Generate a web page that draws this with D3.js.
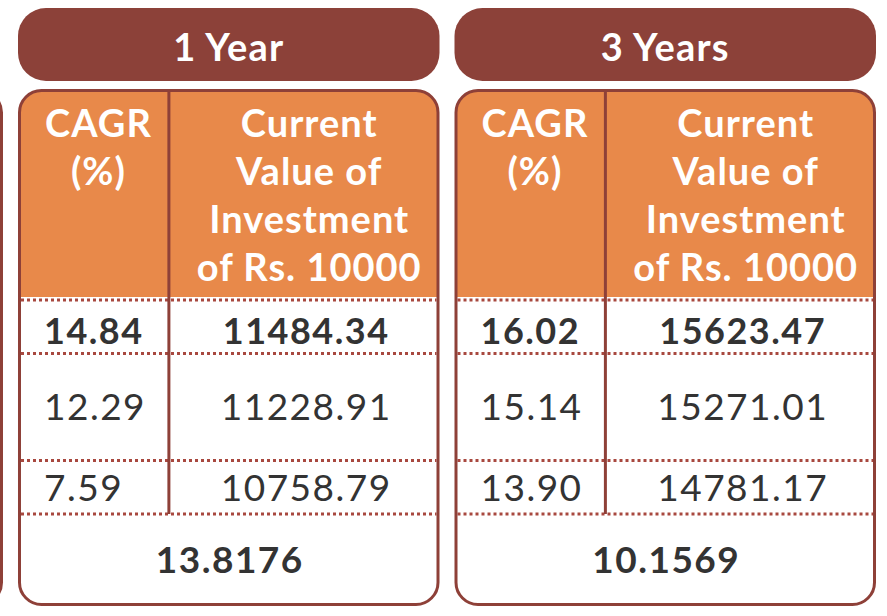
<!DOCTYPE html>
<html>
<head>
<meta charset="utf-8">
<script src="https://cdn.jsdelivr.net/npm/d3@7"></script>
<style>
html, body { margin: 0; padding: 0; background: #ffffff; }
svg { display: block; font-family: Lato, "Open Sans", sans-serif; }
</style>
</head>
<body>
<svg id="chart" width="887" height="616"></svg>
<script>
// ---- data ----
const periods = ["1 Year", "3 Years"];
const cagrHeader = ["CAGR", "(%)"];
const valueHeader = ["Current", "Value of", "Investment", "of Rs. 10000"];
const cagr1Y = [14.84, 12.29, 7.59];
const value1Y = [11484.34, 11228.91, 10758.79];
const cagr3Y = [16.02, 15.14, 13.90];
const value3Y = [15623.47, 15271.01, 14781.17];
const footerValues = [13.8176, 10.1569];
const rowWeights = [1, 2, 1];
const boldRows = [true, false, false];

const tables = periods.map((p, i) => ({
  period: p,
  cagr: i === 0 ? cagr1Y : cagr3Y,
  value: i === 0 ? value1Y : value3Y,
  footer: footerValues[i]
}));

// ---- layout ----
const W = 887, H = 616;
const C = {
  pill: "#8C4139",
  orange: "#E8894A",
  border: "#8E4038",
  dots: "#A8483F",
  text: "#333333"
};
const pillTop = 8, pillH = 73;
const tableTop = 89, headerBottom = 297, bodyTop = 300, bodyBottom = 514, tableBottom = 606;
const stroke = 3;
const fsBold = 36, fsReg = 37, fsHead = 38, fsPill = 38, fsFoot = 37;

const svg = d3.select("#chart").attr("viewBox", `0 0 ${W} ${H}`);
svg.append("rect").attr("width", W).attr("height", H).attr("fill", "#fff");

const x = d3.scaleBand().domain(periods).range([18, 876]).paddingInner(15 / 436.5);
const bw = x.bandwidth();
const step = x.step();
const colSplit = d3.scaleLinear().domain([0, 1]).range([0, bw]);
const splitX = colSplit(0.358);

// row scale from cumulative weights
const cum = [0];
rowWeights.forEach(w => cum.push(cum[cum.length - 1] + w));
const y = d3.scaleLinear().domain([0, d3.sum(rowWeights)]).range([bodyTop, bodyBottom]);
const rowTextShift = [4, 0, 0];

const fmt2 = d3.format(".2f");
const fmt4 = d3.format(".4f");

// partial previous table (only its right border peeks in)
svg.append("rect")
  .attr("x", x(periods[0]) - step + stroke / 2)
  .attr("y", tableTop + stroke / 2)
  .attr("width", bw - stroke)
  .attr("height", tableBottom - tableTop - stroke)
  .attr("rx", 22)
  .attr("fill", "none")
  .attr("stroke", C.border)
  .attr("stroke-width", stroke);

const defs = svg.append("defs");

const g = svg.selectAll("g.table")
  .data(tables)
  .join("g")
  .attr("class", "table")
  .attr("transform", d => `translate(${x(d.period)},0)`);

// pill
g.append("rect")
  .attr("x", 0).attr("y", pillTop)
  .attr("width", bw).attr("height", pillH)
  .attr("rx", 28)
  .attr("fill", C.pill);

g.append("text")
  .attr("x", bw / 2).attr("y", pillTop + 53)
  .attr("text-anchor", "middle")
  .attr("fill", "#fff")
  .attr("font-size", fsPill)
  .attr("font-weight", 700)
  .attr("letter-spacing", 1.2)
  .text(d => d.period);

// clip for table body
tables.forEach((d, i) => {
  defs.append("clipPath").attr("id", "clip" + i)
    .append("rect")
    .attr("x", stroke / 2).attr("y", tableTop + stroke / 2)
    .attr("width", bw - stroke).attr("height", tableBottom - tableTop - stroke)
    .attr("rx", 22);
});

// white body + orange header
g.append("rect")
  .attr("x", 0).attr("y", tableTop)
  .attr("width", bw).attr("height", tableBottom - tableTop)
  .attr("fill", "#fff")
  .attr("clip-path", (d, i) => `url(#clip${i})`);

g.append("rect")
  .attr("x", 0).attr("y", tableTop)
  .attr("width", bw).attr("height", headerBottom - tableTop)
  .attr("fill", C.orange)
  .attr("clip-path", (d, i) => `url(#clip${i})`);

// dotted lines
g.selectAll("line.dot")
  .data(cum.map(c => y(c)))
  .join("line")
  .attr("class", "dot")
  .attr("x1", stroke).attr("x2", bw - stroke)
  .attr("y1", v => v).attr("y2", v => v)
  .attr("stroke", C.dots)
  .attr("stroke-width", 3)
  .attr("stroke-dasharray", "3,3");

// vertical divider
g.append("line")
  .attr("x1", splitX).attr("x2", splitX)
  .attr("y1", tableTop).attr("y2", bodyBottom)
  .attr("stroke", C.border)
  .attr("stroke-width", 3);

// outer border
g.append("rect")
  .attr("x", stroke / 2).attr("y", tableTop + stroke / 2)
  .attr("width", bw - stroke).attr("height", tableBottom - tableTop - stroke)
  .attr("rx", 22)
  .attr("fill", "none")
  .attr("stroke", C.border)
  .attr("stroke-width", stroke);

// header texts
const lineH = 48, firstBase = 137;
const col1Center = splitX / 2 + 5;
const col2Center = (splitX + bw) / 2 + 5;

g.each(function () {
  const t = d3.select(this);
  t.selectAll("text.h1").data(cagrHeader).join("text")
    .attr("class", "h1")
    .attr("x", col1Center).attr("y", (s, k) => firstBase + k * lineH)
    .attr("text-anchor", "middle").attr("fill", "#fff")
    .attr("font-size", fsHead).attr("font-weight", 700).attr("letter-spacing", 1)
    .text(s => s);
  t.selectAll("text.h2").data(valueHeader).join("text")
    .attr("class", "h2")
    .attr("x", col2Center).attr("y", (s, k) => firstBase + k * lineH)
    .attr("text-anchor", "middle").attr("fill", "#fff")
    .attr("font-size", fsHead).attr("font-weight", 700).attr("letter-spacing", 1)
    .text(s => s);
});

// body values
const capRatio = 0.72;
function baseY(k, fs) {
  return (y(cum[k]) + y(cum[k + 1])) / 2 + fs * capRatio / 2 + rowTextShift[k];
}
g.each(function (d) {
  const t = d3.select(this);
  t.selectAll("text.cagr").data(d.cagr).join("text")
    .attr("class", "cagr")
    .attr("x", 26)
    .attr("y", (v, k) => baseY(k, boldRows[k] ? fsBold : fsReg))
    .attr("fill", C.text)
    .attr("font-size", (v, k) => boldRows[k] ? fsBold : fsReg)
    .attr("font-weight", (v, k) => boldRows[k] ? 700 : 400)
    .attr("letter-spacing", 1.5)
    .text(v => fmt2(v));
  t.selectAll("text.val").data(d.value).join("text")
    .attr("class", "val")
    .attr("x", (splitX + bw) / 2 + 2)
    .attr("y", (v, k) => baseY(k, boldRows[k] ? fsBold : fsReg))
    .attr("text-anchor", "middle")
    .attr("fill", C.text)
    .attr("font-size", (v, k) => boldRows[k] ? fsBold : fsReg)
    .attr("font-weight", (v, k) => boldRows[k] ? 700 : 400)
    .attr("letter-spacing", 1.5)
    .text(v => fmt2(v));
  t.append("text")
    .attr("x", bw / 2 + 1)
    .attr("y", (bodyBottom + tableBottom) / 2 + fsFoot * capRatio / 2)
    .attr("text-anchor", "middle")
    .attr("fill", C.text)
    .attr("font-size", fsFoot)
    .attr("font-weight", 700)
    .attr("letter-spacing", 1.5)
    .text(fmt4(d.footer));
});
</script>
</body>
</html>
